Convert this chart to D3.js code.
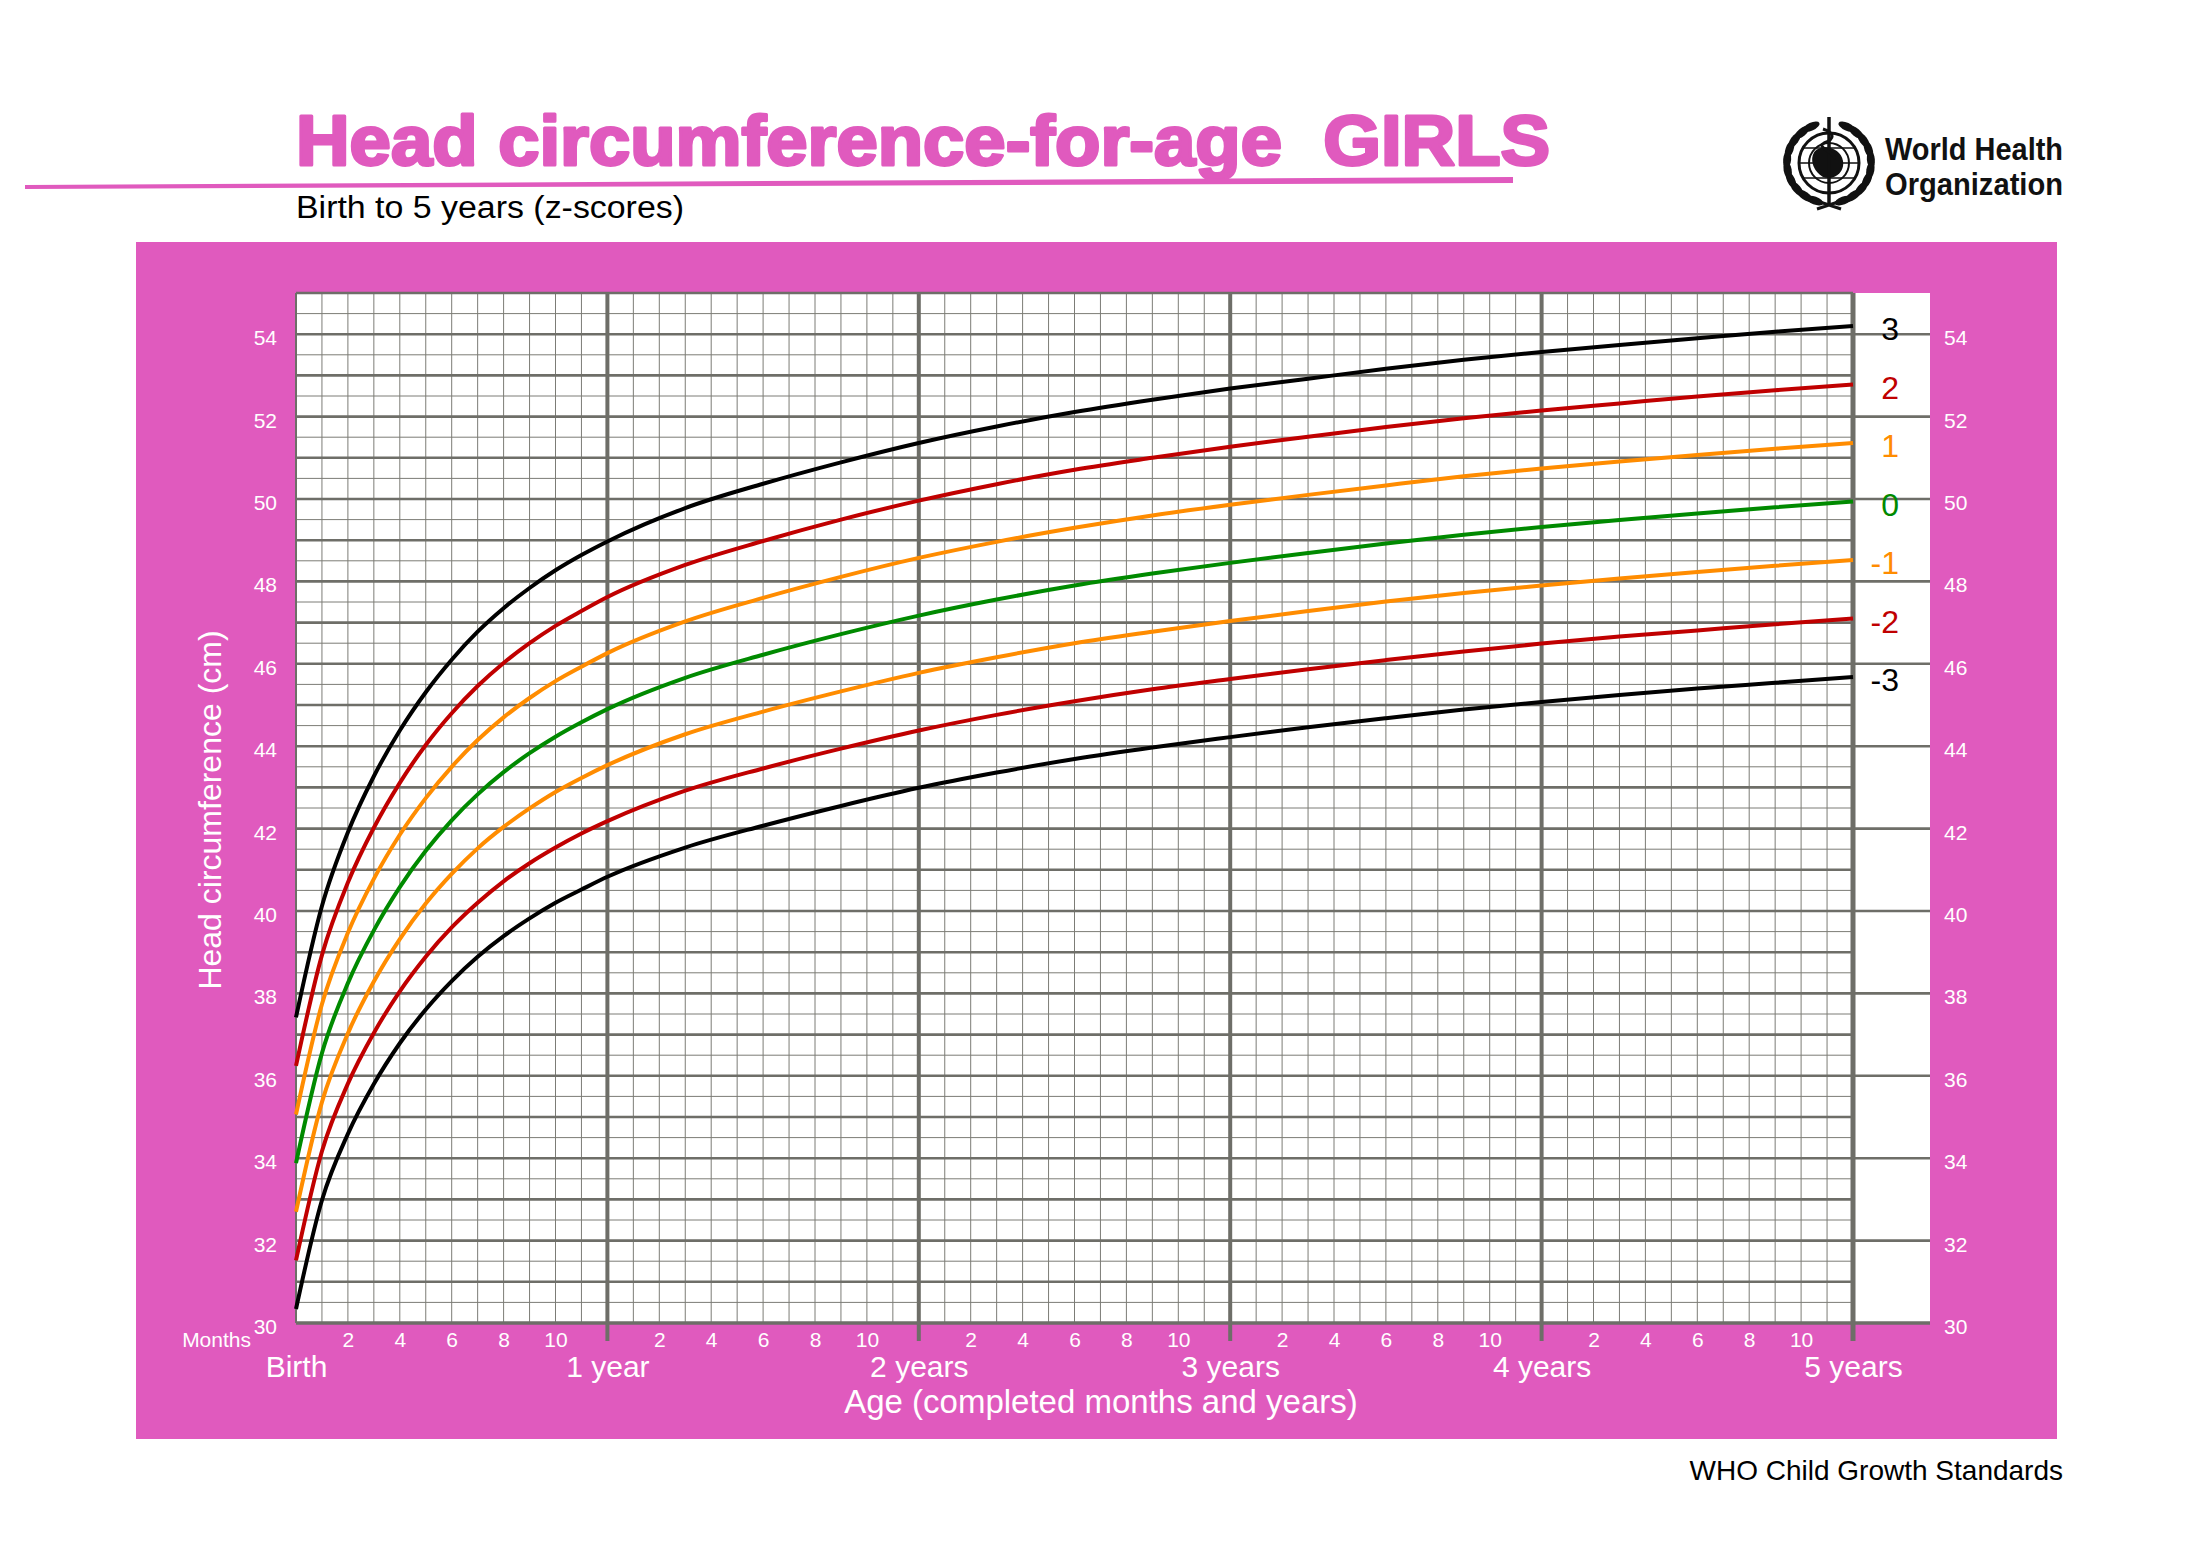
<!DOCTYPE html>
<html>
<head>
<meta charset="utf-8">
<script src="https://cdn.jsdelivr.net/npm/d3@7"></script>
<style>
  body { margin: 0; background: #fff; }
  text { font-family: "Liberation Sans", Arial, sans-serif; }
</style>
</head>
<body>
<svg class="chart"></svg>
<script>
// Age in completed months (monthly for first year, then every 3 months)
var ages = [0, 1, 2, 3, 4, 5, 6, 7, 8, 9, 10, 11, 12,
            15, 18, 21, 24, 27, 30, 33, 36, 39, 42, 45, 48, 51, 54, 57, 60];

// Head circumference (cm) per z-score line
var zPlus3  = [37.42, 40.12, 41.91, 43.27, 44.38, 45.31, 46.10, 46.78, 47.35, 47.84, 48.27, 48.64, 48.97,
               49.78, 50.37, 50.89, 51.36, 51.76, 52.11, 52.41, 52.68, 52.92, 53.16, 53.38, 53.57, 53.74, 53.90, 54.06, 54.20];
var zPlus2  = [36.24, 38.93, 40.69, 42.02, 43.11, 44.03, 44.80, 45.46, 46.02, 46.50, 46.92, 47.28, 47.62,
               48.40, 48.98, 49.50, 49.96, 50.36, 50.71, 51.00, 51.27, 51.51, 51.75, 51.96, 52.15, 52.32, 52.49, 52.64, 52.78];
var zPlus1  = [35.06, 37.74, 39.47, 40.78, 41.85, 42.74, 43.50, 44.15, 44.70, 45.17, 45.58, 45.93, 46.26,
               47.03, 47.60, 48.11, 48.57, 48.96, 49.30, 49.60, 49.86, 50.10, 50.33, 50.55, 50.74, 50.91, 51.07, 51.22, 51.36];
var zMedian = [33.88, 36.55, 38.25, 39.53, 40.58, 41.46, 42.20, 42.83, 43.37, 43.83, 44.23, 44.58, 44.90,
               45.66, 46.22, 46.72, 47.17, 47.56, 47.90, 48.19, 48.45, 48.69, 48.92, 49.13, 49.32, 49.49, 49.65, 49.80, 49.94];
var zMinus1 = [32.70, 35.36, 37.03, 38.29, 39.32, 40.18, 40.90, 41.52, 42.04, 42.49, 42.89, 43.23, 43.54,
               44.29, 44.84, 45.33, 45.78, 46.16, 46.50, 46.78, 47.04, 47.28, 47.51, 47.72, 47.90, 48.07, 48.23, 48.38, 48.52];
var zMinus2 = [31.52, 34.17, 35.81, 37.04, 38.05, 38.89, 39.60, 40.20, 40.72, 41.16, 41.54, 41.88, 42.18,
               42.92, 43.46, 43.94, 44.38, 44.76, 45.09, 45.38, 45.63, 45.87, 46.09, 46.30, 46.49, 46.66, 46.81, 46.96, 47.10];
var zMinus3 = [30.34, 32.98, 34.59, 35.80, 36.79, 37.61, 38.30, 38.89, 39.39, 39.82, 40.20, 40.52, 40.83,
               41.54, 42.07, 42.55, 42.99, 43.36, 43.69, 43.97, 44.22, 44.46, 44.68, 44.89, 45.07, 45.24, 45.40, 45.54, 45.68];

var zLabels = ["3", "2", "1", "0", "-1", "-2", "-3"];
var zColors = ["#000000", "#c00000", "#ff8c00", "#008a00", "#ff8c00", "#c00000", "#000000"];
var cmTicks = [30, 32, 34, 36, 38, 40, 42, 44, 46, 48, 50, 52, 54];
var monthTicks = [2, 4, 6, 8, 10];
var yearTicks = [0, 12, 24, 36, 48, 60];
var yearLabels = ["Birth", "1 year", "2 years", "3 years", "4 years", "5 years"];

var series = [zPlus3, zPlus2, zPlus1, zMedian, zMinus1, zMinus2, zMinus3].map(function(v, i) {
  return { label: zLabels[i], color: zColors[i], values: v };
});

var width = 2198, height = 1550;
var pink = "#e05abe";
var gridColor = "#6e6e68";
var thinColor = "#7c7c76";
var plotLeft = 296, plotRight = 1853, plotTop = 293, plotBottom = 1323, whiteRight = 1930;

var chart = d3.select(".chart")
  .attr("width", width)
  .attr("height", height);

chart.append("rect").attr("width", width).attr("height", height).attr("fill", "#fff");

// Scales
var x = d3.scaleLinear().domain([0, 60]).range([plotLeft, plotRight]);
var y = d3.scaleLinear().domain([30, 55]).range([plotBottom, plotTop]);

// Pink panel with white plotting area
chart.append("rect")
  .attr("x", 136).attr("y", 242).attr("width", 2057 - 136).attr("height", 1439 - 242)
  .attr("fill", pink);

chart.append("rect")
  .attr("x", plotLeft).attr("y", plotTop)
  .attr("width", whiteRight - plotLeft).attr("height", plotBottom - plotTop)
  .attr("fill", "#fff");

var grid = chart.append("g");

// Thin month lines
grid.selectAll(".vmonth")
  .data(x.ticks(60).filter(function(d) { return d % 12 !== 0; }))
  .enter().append("line")
  .attr("x1", function(d) { return x(d); }).attr("x2", function(d) { return x(d); })
  .attr("y1", plotTop).attr("y2", plotBottom)
  .attr("stroke", thinColor).attr("stroke-width", 1);

// Half-cm and cm lines; even cm lines run into the label column
grid.selectAll(".hline")
  .data(y.ticks(50))
  .enter().append("line")
  .attr("x1", plotLeft)
  .attr("x2", function(d) { return d % 2 === 0 ? whiteRight : plotRight; })
  .attr("y1", function(d) { return y(d); }).attr("y2", function(d) { return y(d); })
  .attr("stroke", function(d) { return Number.isInteger(d) ? gridColor : thinColor; })
  .attr("stroke-width", function(d) {
    if (d === 30) return 3.5;
    return Number.isInteger(d) ? 2.6 : 1;
  });

// Year lines with ticks below the grid
grid.selectAll(".vyear")
  .data(yearTicks)
  .enter().append("line")
  .attr("x1", function(d) { return x(d); }).attr("x2", function(d) { return x(d); })
  .attr("y1", plotTop)
  .attr("y2", function(d) { return d === 0 ? plotBottom : plotBottom + 18; })
  .attr("stroke", gridColor)
  .attr("stroke-width", function(d) { return d === 0 ? 2 : (d === 60 ? 5 : 4); });

// Curves
var line = d3.line()
  .x(function(d, i) { return x(ages[i]); })
  .y(function(d) { return y(d); })
  .curve(d3.curveMonotoneX);

chart.append("g").selectAll("path")
  .data(series)
  .enter().append("path")
  .attr("d", function(d) { return line(d.values); })
  .attr("fill", "none")
  .attr("stroke", function(d) { return d.color; })
  .attr("stroke-width", 4)
  .attr("stroke-linecap", "butt");

// z-score labels in the white column
chart.append("g").selectAll("text")
  .data(series)
  .enter().append("text")
  .attr("x", 1899)
  .attr("y", function(d) { return y(d.values[d.values.length - 1]); })
  .attr("dy", "0.45em")
  .attr("text-anchor", "end")
  .attr("font-size", 32)
  .attr("fill", function(d) { return d.color; })
  .text(function(d) { return d.label; });

// Left and right cm axes
var yLeft = chart.append("g")
  .attr("transform", "translate(277,0)")
  .call(d3.axisLeft(y).tickValues(cmTicks).tickSize(0).tickPadding(0));

var yRight = chart.append("g")
  .attr("transform", "translate(1944,0)")
  .call(d3.axisRight(y).tickValues(cmTicks).tickSize(0).tickPadding(0));

[yLeft, yRight].forEach(function(g) {
  g.select(".domain").remove();
  g.selectAll("text")
    .attr("dy", "0.5em")
    .attr("fill", "#fff")
    .style("font-size", "21px")
    .style("font-family", "'Liberation Sans', Arial, sans-serif");
});

// Month numbers under each year
var monthPositions = [];
yearTicks.slice(0, 5).forEach(function(yr) {
  monthTicks.forEach(function(m) { monthPositions.push(yr + m); });
});

var xMonths = chart.append("g")
  .attr("transform", "translate(0,1347)")
  .call(d3.axisBottom(x).tickValues(monthPositions).tickSize(0).tickPadding(0)
    .tickFormat(function(d) { return d % 12; }));

var xYears = chart.append("g")
  .attr("transform", "translate(0,1377)")
  .call(d3.axisBottom(x).tickValues(yearTicks).tickSize(0).tickPadding(0)
    .tickFormat(function(d, i) { return yearLabels[i]; }));

xMonths.select(".domain").remove();
xYears.select(".domain").remove();

xMonths.selectAll("text")
  .attr("y", 0).attr("dy", null)
  .attr("fill", "#fff")
  .style("font-size", "21px")
  .style("font-family", "'Liberation Sans', Arial, sans-serif");

xYears.selectAll("text")
  .attr("y", 0).attr("dy", null)
  .attr("fill", "#fff")
  .style("font-size", "30px")
  .style("font-family", "'Liberation Sans', Arial, sans-serif");

chart.append("text")
  .attr("x", 251).attr("y", 1347)
  .attr("text-anchor", "end")
  .attr("font-size", 21)
  .attr("fill", "#fff")
  .text("Months");

// Axis titles
chart.append("text")
  .attr("x", 1101).attr("y", 1413)
  .attr("text-anchor", "middle")
  .attr("font-size", 33)
  .attr("fill", "#fff")
  .text("Age (completed months and years)");

chart.append("text")
  .attr("transform", "translate(221,810) rotate(-90)")
  .attr("text-anchor", "middle")
  .attr("font-size", 32)
  .attr("fill", "#fff")
  .text("Head circumference (cm)");

// Title block
chart.append("text")
  .attr("x", 296).attr("y", 165)
  .attr("font-size", 70)
  .attr("font-weight", "bold")
  .attr("fill", pink)
  .attr("stroke", pink)
  .attr("stroke-width", 3)
  .attr("stroke-linejoin", "round")
  .attr("textLength", 1254)
  .attr("lengthAdjust", "spacingAndGlyphs")
  .style("white-space", "pre")
  .text("Head circumference-for-age  GIRLS");

chart.append("path")
  .attr("d", "M25,185 L1513,177 L1513,183 L25,189 Z")
  .attr("fill", pink);

chart.append("text")
  .attr("x", 296).attr("y", 218)
  .attr("font-size", 31)
  .attr("fill", "#000")
  .attr("textLength", 388)
  .attr("lengthAdjust", "spacingAndGlyphs")
  .text("Birth to 5 years (z-scores)");

chart.append("text")
  .attr("x", 2063).attr("y", 1480)
  .attr("text-anchor", "end")
  .attr("font-size", 28)
  .attr("fill", "#000")
  .text("WHO Child Growth Standards");

// WHO emblem (simplified)
var logo = chart.append("g").attr("transform", "translate(1829,163)");

var leafAngles = d3.range(0, 10);
[-1, 1].forEach(function(side) {
  logo.selectAll(".leaf" + side)
    .data(leafAngles)
    .enter().append("ellipse")
    .attr("rx", 4).attr("ry", 9)
    .attr("fill", "#111")
    .attr("transform", function(i) {
      var a = (250 - i * 15) * Math.PI / 180;
      var px = side * Math.cos(a) * 42, py = -Math.sin(a) * 40;
      var rot = side * (i * 15 - 70);
      return "translate(" + px + "," + py + ") rotate(" + rot + ")";
    });
});

logo.append("circle").attr("r", 30).attr("fill", "#fff").attr("stroke", "#111").attr("stroke-width", 3);
logo.append("circle").attr("r", 20).attr("fill", "none").attr("stroke", "#111").attr("stroke-width", 2);
logo.append("circle").attr("r", 10).attr("fill", "none").attr("stroke", "#111").attr("stroke-width", 2);
logo.append("path").attr("d", "M-30,0 L30,0 M-26,-15 L26,-15 M-26,15 L26,15")
  .attr("stroke", "#111").attr("stroke-width", 1.5);
logo.append("path").attr("d", "M-14,-12 C-4,-20 12,-14 14,-2 C16,10 4,18 -6,14 C-16,8 -20,-4 -14,-12 Z")
  .attr("fill", "#111");
logo.append("line").attr("x1", 0).attr("x2", 0).attr("y1", -46).attr("y2", 42)
  .attr("stroke", "#111").attr("stroke-width", 3.5);
logo.append("path").attr("d", "M-6,-34 C6,-30 6,-24 -5,-20 C-14,-16 8,-10 5,-4")
  .attr("fill", "none").attr("stroke", "#111").attr("stroke-width", 3);
logo.append("path").attr("d", "M-12,38 L12,46 M12,38 L-12,46")
  .attr("stroke", "#111").attr("stroke-width", 3);

chart.append("text")
  .attr("x", 1885).attr("y", 160)
  .attr("font-size", 32).attr("font-weight", "bold")
  .attr("fill", "#111")
  .attr("textLength", 178).attr("lengthAdjust", "spacingAndGlyphs")
  .text("World Health");

chart.append("text")
  .attr("x", 1885).attr("y", 195)
  .attr("font-size", 32).attr("font-weight", "bold")
  .attr("fill", "#111")
  .attr("textLength", 178).attr("lengthAdjust", "spacingAndGlyphs")
  .text("Organization");
</script>
</body>
</html>
